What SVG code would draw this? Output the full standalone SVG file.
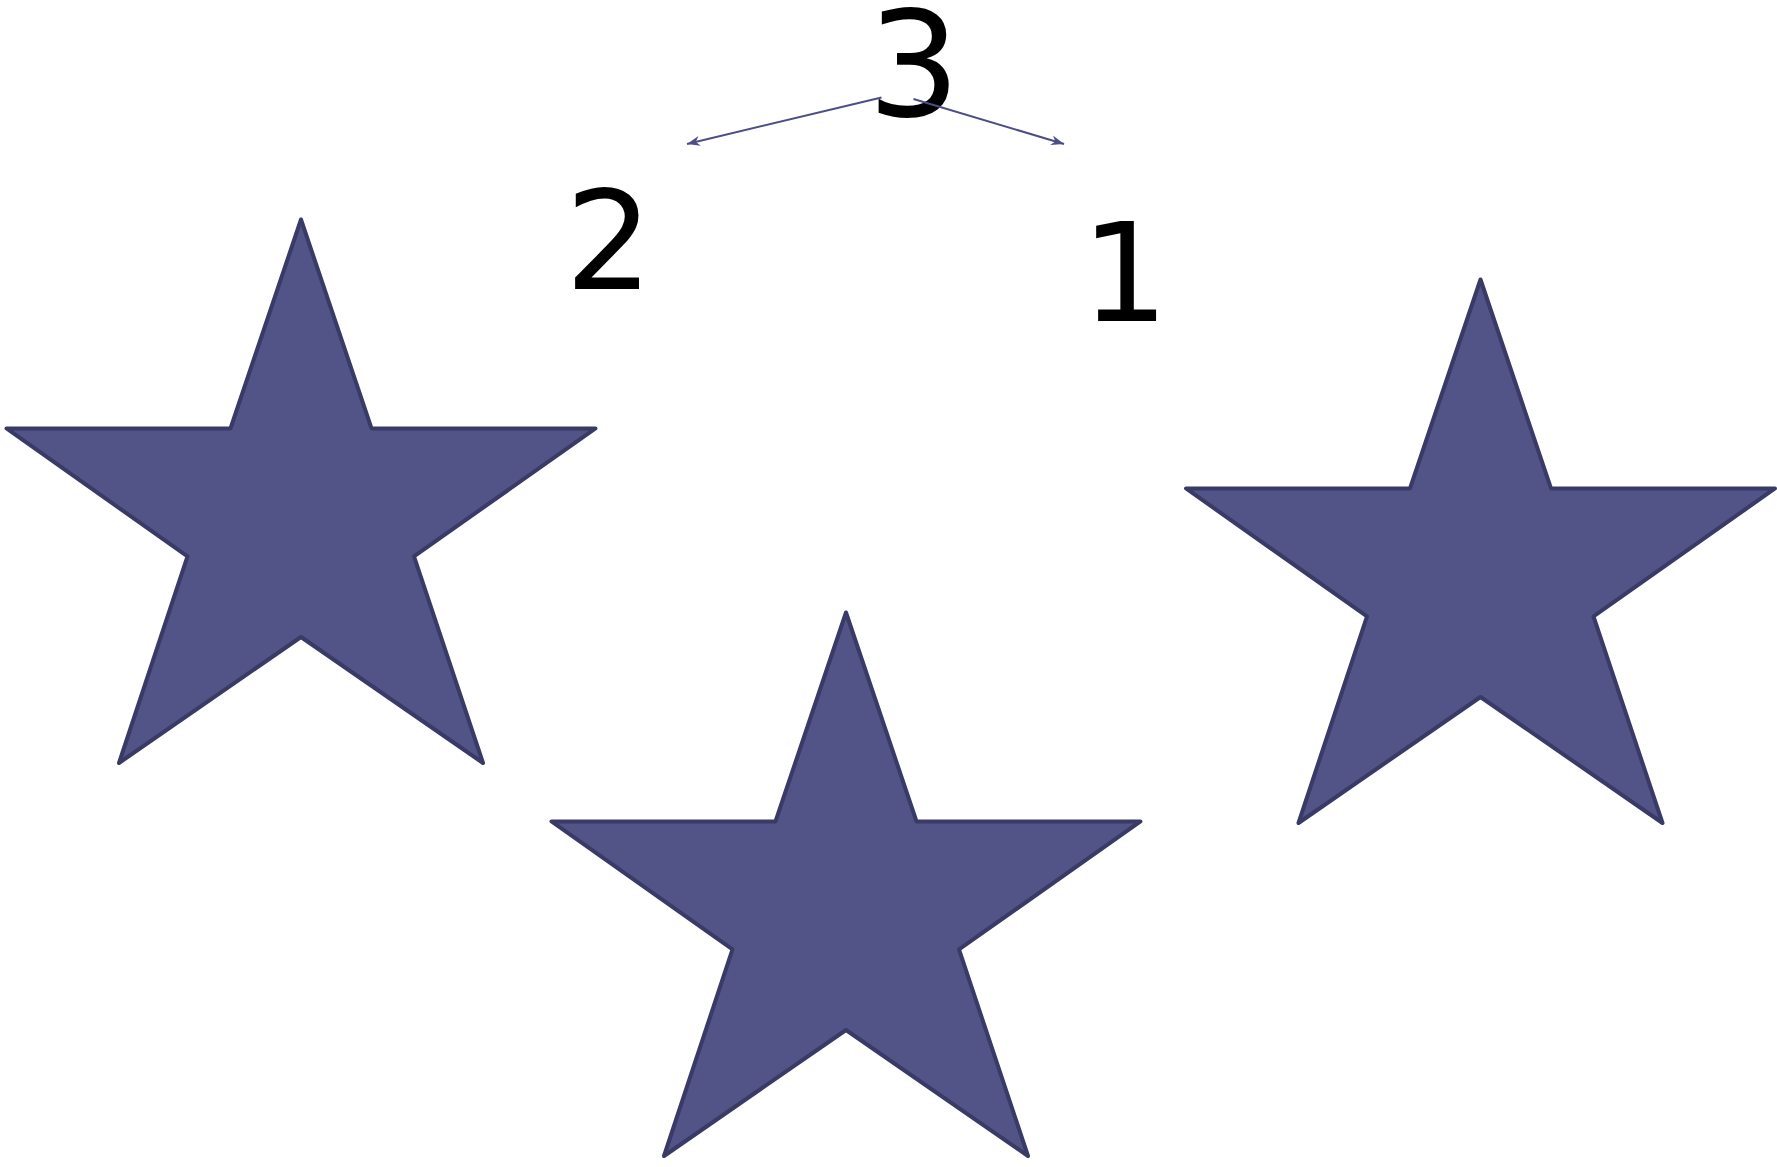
<svg xmlns="http://www.w3.org/2000/svg" width="1777" height="1167" viewBox="0 0 1777 1167">
  <style>
    .star { fill: #525387; stroke: #393a66; stroke-width: 4; stroke-linejoin: round; }
    .lbl { font-family: "DejaVu Sans", "Liberation Sans", sans-serif; fill: #000000; text-anchor: middle; }
    .conn { stroke: #4d4d88; stroke-width: 2; fill: none; }
  </style>
  <defs>
    <marker id="arr" markerUnits="userSpaceOnUse" markerWidth="20" markerHeight="14" viewBox="-14 -7 16 14" refX="0" refY="0" orient="auto">
      <path d="M0,0 L-13,-5 L-9,0 L-13,5 Z" fill="#4d4d88"/>
    </marker>
    <polygon id="starShape" points="301,219.5 371.5,428.4 595.5,428.4 414,556.4 483,763 301,637 119,763 187.5,556.4 6.5,428.4 230.5,428.4"/>
  </defs>
  <rect width="1777" height="1167" fill="#ffffff"/>
  <g id="star-left">
    <use href="#starShape" class="star"/>
  </g>
  <g id="star-middle">
    <use href="#starShape" class="star" transform="translate(545,393)"/>
  </g>
  <g id="star-right">
    <use href="#starShape" class="star" transform="translate(1179.5,60)"/>
  </g>
  <g id="label-3"><text class="lbl" x="914" y="116" font-size="146">3</text></g>
  <g id="label-2"><text class="lbl" x="609" y="289" font-size="138">2</text></g>
  <g id="label-1"><text class="lbl" x="1125" y="321" font-size="138">1</text></g>
  <g id="connectors">
    <line class="conn" x1="881.5" y1="97.5" x2="687" y2="144" marker-end="url(#arr)"/>
    <line class="conn" x1="913.5" y1="99" x2="1064" y2="144" marker-end="url(#arr)"/>
  </g>
</svg>
